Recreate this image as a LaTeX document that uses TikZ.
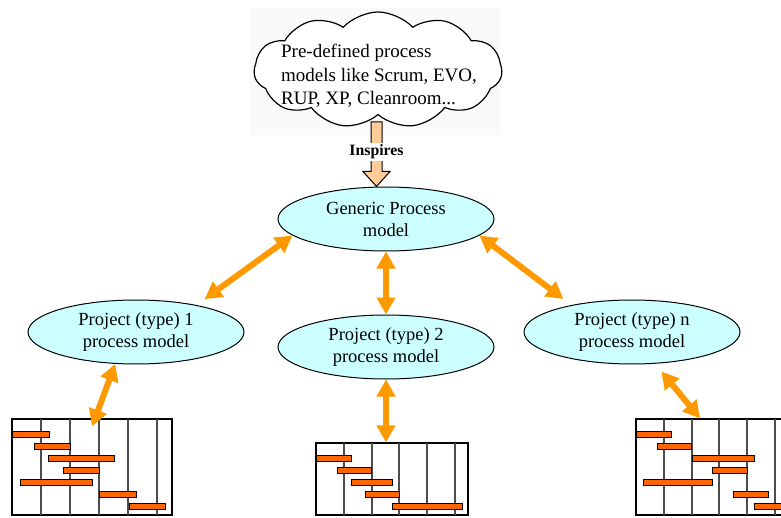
\documentclass[tikz,border=0pt]{standalone}
\usepackage{fontspec}
\setmainfont{Liberation Serif}
\usetikzlibrary{shapes.geometric,shapes.symbols,arrows.meta,calc}

\definecolor{procfill}{HTML}{CCFFFF}
\definecolor{linkor}{HTML}{FF9900}
\definecolor{barfill}{HTML}{FF6600}
\definecolor{inspfill}{HTML}{FFCC99}

\tikzset{
  procmodel/.style={ellipse, draw, line width=0.5pt, fill=procfill,
    minimum width=108pt, minimum height=32pt, inner sep=0pt, align=center,
    font=\fontsize{9.25}{11}\selectfont},
  twoway/.style={draw=linkor, line width=3pt,
    {Triangle[width=9pt,length=8.5pt]}-{Triangle[width=9pt,length=8.5pt]}},
  chartbox/.style={draw, line width=0.6pt, inner sep=0pt},
  gridline/.style={draw=black!70, line width=0.6pt},
  bar/.style={draw, line width=0.5pt, fill=barfill},
}

\begin{document}
\begin{tikzpicture}[x=0.5pt,y=-0.5pt]
\useasboundingbox (0,0) rectangle (781,518);
\clip (0,0) rectangle (781,518);
\fill[black!2] (250,8) rectangle (500,135);

% process models
\node[procmodel] (generic) at (386,219) {Generic Process\\model};
\node[procmodel] (p1) at (136,332) {Project (type) 1\\process model};
\node[procmodel] (p2) at (386,347) {Project (type) 2\\process model};
\node[procmodel] (pn) at (632,332) {Project (type) n\\process model};

% inspires arrow
\coordinate (inspTop) at (376.5,122);
\coordinate (inspTip) at (inspTop |- generic.north);
\draw[line width=0.5pt, fill=inspfill] ($(inspTop)+(-5.5,0)$) -- ($(inspTip)+(-5.5,-15)$)
  -- ($(inspTip)+(-13.5,-15)$) -- (inspTip) -- ($(inspTip)+(13.5,-15)$)
  -- ($(inspTip)+(5.5,-15)$) -- ($(inspTop)+(5.5,0)$) -- cycle;
\node[fill=white, inner sep=1pt, font=\bfseries\fontsize{7.9}{9}\selectfont] (inspires) at (376.5,152) {Inspires};

% cloud
\node[cloud, draw, fill=white, line width=0.6pt, cloud puffs=11, cloud puff arc=95,
  minimum width=124pt, minimum height=58pt, inner sep=0pt] (cloud) at (378,70) {};
\node[font=\fontsize{9.5}{11.75}\selectfont, align=left] (cloudtext) at (379,76)
  {Pre-defined process\\models like Scrum, EVO,\\RUP, XP, Cleanroom...};

% charts
\node[chartbox, minimum width=80pt, minimum height=48pt] (gantt1) at (92,467) {};
\foreach \x in {41,70,99,128,157}
  \draw[gridline] (\x,419) -- (\x,515);
\foreach \a/\b/\y in {12/49/431,34/70/443,48/114/455,63/99/467,20/92/479,99/136/491,129/165/503}
  \draw[bar] (\a,\y) rectangle (\b,\y+6);
\node[chartbox, minimum width=76pt, minimum height=36pt] (gantt2) at (392,479) {};
\foreach \x in {344,372,399,427,455}
  \draw[gridline] (\x,443) -- (\x,515);
\foreach \a/\b/\y in {316/351/455,337/371/467,351/392/479,365/399/491,392/462/503}
  \draw[bar] (\a,\y) rectangle (\b,\y+6);
\node[chartbox, minimum width=80pt, minimum height=48pt] (ganttn) at (716,467) {};
\foreach \x in {664,692,719,747,775}
  \draw[gridline] (\x,419) -- (\x,515);
\foreach \a/\b/\y in {636/671/431,657/691/443,692/754/455,712/747/467,643/712/479,733/768/491,754/789/503}
  \draw[bar] (\a,\y) rectangle (\b,\y+6);

% links
\draw[twoway, shorten >=5pt] (generic.190) -- (p1.24);
\draw[twoway, shorten >=5pt] (generic.350) -- (pn.156);
\draw[twoway] (generic.south) -- (p2.north);
\draw[twoway] (p1.237) -- ([yshift=-4pt]gantt1.north);
\draw[twoway] (p2.south) -- (p2.south |- gantt2.north);
\draw[twoway, shorten <=5pt] (pn.306) -- ([xshift=-8pt]ganttn.north);
\end{tikzpicture}
\end{document}
